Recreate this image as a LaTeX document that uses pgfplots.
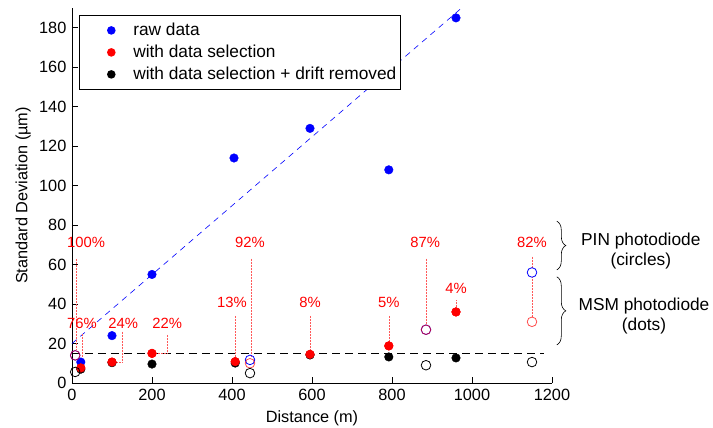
\documentclass[border=0pt]{standalone}
\usepackage{pgfplots}
\pgfplotsset{compat=1.18}
\usepackage{fontspec}
\setmainfont{Liberation Sans}
\usetikzlibrary{decorations.pathreplacing}
\pgfplotstableread{
x y
22 10.6
100 24
200 55
405 114
595 129
792 108
960 185
}\rawdots
\pgfplotstableread{
x y
22 7.6
100 10.6
200 15
408 10.8
595 14.5
792 18.8
960 36
}\seldots
\pgfplotstableread{
x y
22 7
100 10.3
200 9.6
408 10.1
595 14.2
792 13.2
960 12.7
}\driftdots
\pgfplotstableread{
x y
8 14
445 11.7
885 27
1150 56
}\rawcirc
\pgfplotstableread{
x y
8 14
445 10
885 27
1150 31
}\selcirc
\pgfplotstableread{
x y
8 5.6
445 5
885 9
1150 10.6
}\driftcirc
\newcommand{\fs}{\fontsize{16.3}{19}\selectfont}
\newcommand{\fl}{\fontsize{17.3}{20}\selectfont}
\newcommand{\fp}{\fontsize{14.8}{18}\selectfont}
\begin{document}
\fs
\begin{tikzpicture}
\begin{axis}[
  name=ax,
  scale only axis, width=480pt, height=375pt,
  xmin=0, xmax=1200, ymin=0, ymax=190,
  axis x line=bottom, axis y line=left,
  axis line style={-, line width=0.6pt, black},
  tick align=inside, major tick length=6pt,
  tick style={line width=0.6pt, black},
  xtick={0,200,...,1200}, ytick={0,20,...,180},
  /pgf/number format/assume math mode=true,
  /pgf/number format/1000 sep={},
  ticklabel style={font=\fs},
  label style={font=\fl},
  xlabel={Distance (m)},
  ylabel={Standard Deviation (µm)},
  every axis x label/.style={at={(axis description cs:0.5,-0.093)}, anchor=center},
  every axis y label/.style={at={(axis description cs:-0.102,0.5)}, rotate=90, anchor=center},
  clip=false,
  legend style={at={(axis description cs:0.0146,0.981)}, anchor=north west,
    draw=black, line width=0.6pt, font=\fl, inner xsep=2pt, inner ysep=6pt,
    row sep=4pt, nodes={inner ysep=1.5pt, inner xsep=2pt}},
  legend cell align=left,
  dotleg/.style={legend image code/.code={\fill[white, opacity=0, draw=none] (0pt,-2pt) rectangle (50pt,2pt); \fill[##1, draw=none] (30pt,0pt) circle[radius=4.3pt];}},
]
% fitted trend of raw data
\addplot[blue, line width=0.6pt, dash pattern=on 6pt off 5pt, forget plot] coordinates {(0,20) (974,190)};
% reference level
\addplot[black, line width=0.6pt, dash pattern=on 8pt off 5pt, forget plot] coordinates {(0,15.2) (1180,15.2)};
% MSM dots
\addplot[only marks, mark=*, mark size=4.3pt, blue, mark options={draw=none, fill=blue}, dotleg] table[x=x,y=y] {\rawdots};
\addlegendentry{raw data}
\addplot[only marks, mark=*, mark size=4.3pt, red, mark options={draw=none, fill=red}, dotleg] table[x=x,y=y] {\seldots};
\addlegendentry{with data selection}
\addplot[only marks, mark=*, mark size=4.3pt, black, mark options={draw=none, fill=black}, dotleg] table[x=x,y=y] {\driftdots};
\addlegendentry{with data selection + drift removed}
\addplot[only marks, mark=*, mark size=4.3pt, red, mark options={draw=none, fill=red}, forget plot] table[x=x,y=y] {\seldots};
% PIN circles
\addplot[only marks, mark=o, mark size=4.8pt, blue, mark options={line width=0.8pt}, forget plot] table[x=x,y=y] {\rawcirc};
\addplot[only marks, mark=o, mark size=4.8pt, red, mark options={line width=0.8pt, draw opacity=0.7}, forget plot] table[x=x,y=y] {\selcirc};
\addplot[only marks, mark=o, mark size=4.8pt, black, mark options={line width=0.8pt}, forget plot] table[x=x,y=y] {\driftcirc};
% annotation lines
\begin{scope}[red!65, line width=0.5pt, densely dotted]
\draw (10,63) -- (10,16.7);
\draw (25,25) -- (25,13.2);
\draw (125,26) -- (125,10.6) -- (104,10.6);
\draw (237,24.4) -- (237,15) -- (204,15);
\draw (408,34) -- (408,13);
\draw (447,63) -- (447,13.5);
\draw (595,34) -- (595,16.5);
\draw (792,34) -- (792,21);
\draw (885,63) -- (885,29.6);
\draw (960,42) -- (960,38.5);
\draw (1150,64) -- (1150,58.5);
\draw (1150,53.5) -- (1150,33.4);
\end{scope}
\begin{scope}[every node/.style={red, font=\fp, inner sep=0pt}]
\node at (35,71) {100\%};
\node at (25,30) {76\%};
\node at (128,30) {24\%};
\node at (238,30) {22\%};
\node at (400,40.6) {13\%};
\node at (445,71) {92\%};
\node at (595,40.6) {8\%};
\node at (792,40.6) {5\%};
\node at (883,71) {87\%};
\node at (960,48) {4\%};
\node at (1150,71) {82\%};
\end{scope}
% braces
\draw[decorate, decoration={brace, amplitude=9pt}, line width=0.6pt] (1212,82) -- (1212,57.3);
\draw[decorate, decoration={brace, amplitude=9pt}, line width=0.6pt] (1212,53.8) -- (1212,19.3);
\node[align=center, font=\fl, inner sep=0pt] at (1422,67) {PIN photodiode\\(circles)};
\node[align=center, font=\fl, inner sep=0pt] at (1430,33.7) {MSM photodiode\\(dots)};
\end{axis}
\pgfresetboundingbox
\path (-72pt,-45pt) rectangle (641pt,383pt);
\end{tikzpicture}
\end{document}
